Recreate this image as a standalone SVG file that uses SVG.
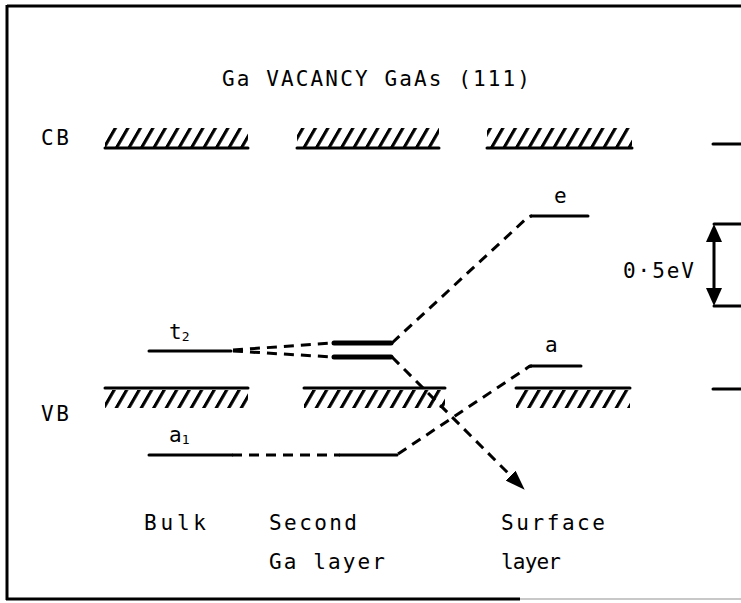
<svg xmlns="http://www.w3.org/2000/svg" width="741" height="603" viewBox="0 0 741 603">
  <style>
    .txt { font-family: "DejaVu Sans Mono", "Liberation Mono", monospace; font-size: 21px; fill: #000; }
    .lvl { stroke: #000; stroke-width: 3; fill: none; stroke-linecap: round; }
    .thick { stroke: #000; stroke-width: 5; fill: none; stroke-linecap: round; }
    .dash { stroke: #000; stroke-width: 3; fill: none; stroke-dasharray: 10 7; }
    .edge { stroke: #000; stroke-width: 3; fill: none; }
  </style>
  <defs>
    <pattern id="hatch" patternUnits="userSpaceOnUse" width="12.5" height="20" patternTransform="skewX(-30)">
      <rect x="0" y="0" width="3.6" height="20" fill="#000"/>
    </pattern>
    <marker id="arrowhead" markerWidth="20" markerHeight="14" refX="19" refY="7" orient="auto" markerUnits="userSpaceOnUse">
      <path d="M0,0 L20,7 L0,14 Z" fill="#000"/>
    </marker>
  </defs>

  <rect width="741" height="603" fill="#fff"/>

  <!-- frame -->
  <g id="frame">
    <line class="edge" x1="7" y1="6" x2="741" y2="6"/>
    <line class="edge" x1="7" y1="5" x2="7" y2="600"/>
    <line class="edge" x1="6" y1="599" x2="520" y2="599"/>
    <line x1="520" y1="599" x2="741" y2="599" stroke="#c8c8c8" stroke-width="2"/>
  </g>

  <text class="txt" x="222" y="86" textLength="308" lengthAdjust="spacing" font-size="22">Ga VACANCY GaAs (111)</text>

  <!-- conduction band edges -->
  <g id="cb">
    <text class="txt" x="41" y="145" textLength="28" lengthAdjust="spacing">CB</text>
    <rect x="105" y="128" width="143" height="19" fill="url(#hatch)"/>
    <line class="lvl" x1="105" y1="148" x2="248" y2="148"/>
    <rect x="297" y="128" width="142" height="19" fill="url(#hatch)"/>
    <line class="lvl" x1="297" y1="148" x2="439" y2="148"/>
    <rect x="487" y="128" width="145" height="19" fill="url(#hatch)"/>
    <line class="lvl" x1="487" y1="148" x2="632" y2="148"/>
  </g>

  <!-- valence band edges -->
  <g id="vb">
    <text class="txt" x="41" y="421" textLength="28" lengthAdjust="spacing">VB</text>
    <line class="lvl" x1="105" y1="388" x2="248" y2="388"/>
    <rect x="105" y="390" width="143" height="18" fill="url(#hatch)"/>
    <line class="lvl" x1="304" y1="388" x2="445" y2="388"/>
    <rect x="304" y="390" width="141" height="18" fill="url(#hatch)"/>
    <line class="lvl" x1="516" y1="388" x2="630" y2="388"/>
    <rect x="516" y="390" width="114" height="18" fill="url(#hatch)"/>
  </g>

  <!-- bulk levels -->
  <g id="bulk-t2">
    <line class="lvl" x1="149" y1="351" x2="231" y2="351"/>
    <text class="txt" x="169" y="339">t<tspan font-size="13" dx="0" dy="2">2</tspan></text>
  </g>
  <g id="bulk-a1">
    <line class="lvl" x1="149" y1="455" x2="232" y2="455"/>
    <text class="txt" x="169" y="442">a<tspan font-size="13" dx="0" dy="2">1</tspan></text>
  </g>

  <!-- second Ga layer levels -->
  <g id="second-t2">
    <line class="thick" x1="334" y1="343" x2="391" y2="343"/>
    <line class="thick" x1="334" y1="357" x2="391" y2="357"/>
  </g>
  <g id="second-a1">
    <line class="lvl" x1="340" y1="455" x2="397" y2="455"/>
  </g>

  <!-- surface levels -->
  <g id="surface-e">
    <line class="lvl" x1="531" y1="216" x2="588" y2="216"/>
    <text class="txt" x="554" y="203">e</text>
  </g>
  <g id="surface-a">
    <line class="lvl" x1="530" y1="366" x2="581" y2="366"/>
    <text class="txt" x="545" y="352">a</text>
  </g>

  <!-- column captions -->
  <g id="captions">
    <text class="txt" x="144" y="530" textLength="62" lengthAdjust="spacing">Bulk</text>
    <text class="txt" x="269" y="530" textLength="88" lengthAdjust="spacing">Second</text>
    <text class="txt" x="269" y="569" textLength="116" lengthAdjust="spacing">Ga layer</text>
    <text class="txt" x="501" y="530" textLength="104" lengthAdjust="spacing">Surface</text>
    <text class="txt" x="501" y="569" textLength="60" lengthAdjust="spacing">layer</text>
  </g>

  <!-- energy scale -->
  <g id="scale">
    <line class="lvl" x1="713" y1="144" x2="741" y2="144"/>
    <line class="lvl" x1="713" y1="389" x2="741" y2="389"/>
    <line class="lvl" x1="714" y1="224" x2="741" y2="224"/>
    <line class="lvl" x1="714" y1="306" x2="741" y2="306"/>
    <line class="lvl" x1="714" y1="238" x2="714" y2="292"/>
    <path d="M714,224 L722,242 L706,242 Z" fill="#000"/>
    <path d="M714,306 L722,288 L706,288 Z" fill="#000"/>
    <text class="txt" x="623" y="278" textLength="71" lengthAdjust="spacing">0·5eV</text>
  </g>

  <!-- correlation lines -->
  <g id="connectors">
    <path class="dash" d="M233,350 L333,343"/>
    <path class="dash" d="M233,351 L333,357"/>
    <path class="dash" d="M392,343 L527,218 Q529,216 532,216"/>
    <path class="dash" d="M392,357 L524,489" marker-end="url(#arrowhead)"/>
    <path class="dash" d="M232,455 L340,455"/>
    <path class="dash" d="M398,454 L527,368 Q529,366 532,366"/>
  </g>
</svg>
